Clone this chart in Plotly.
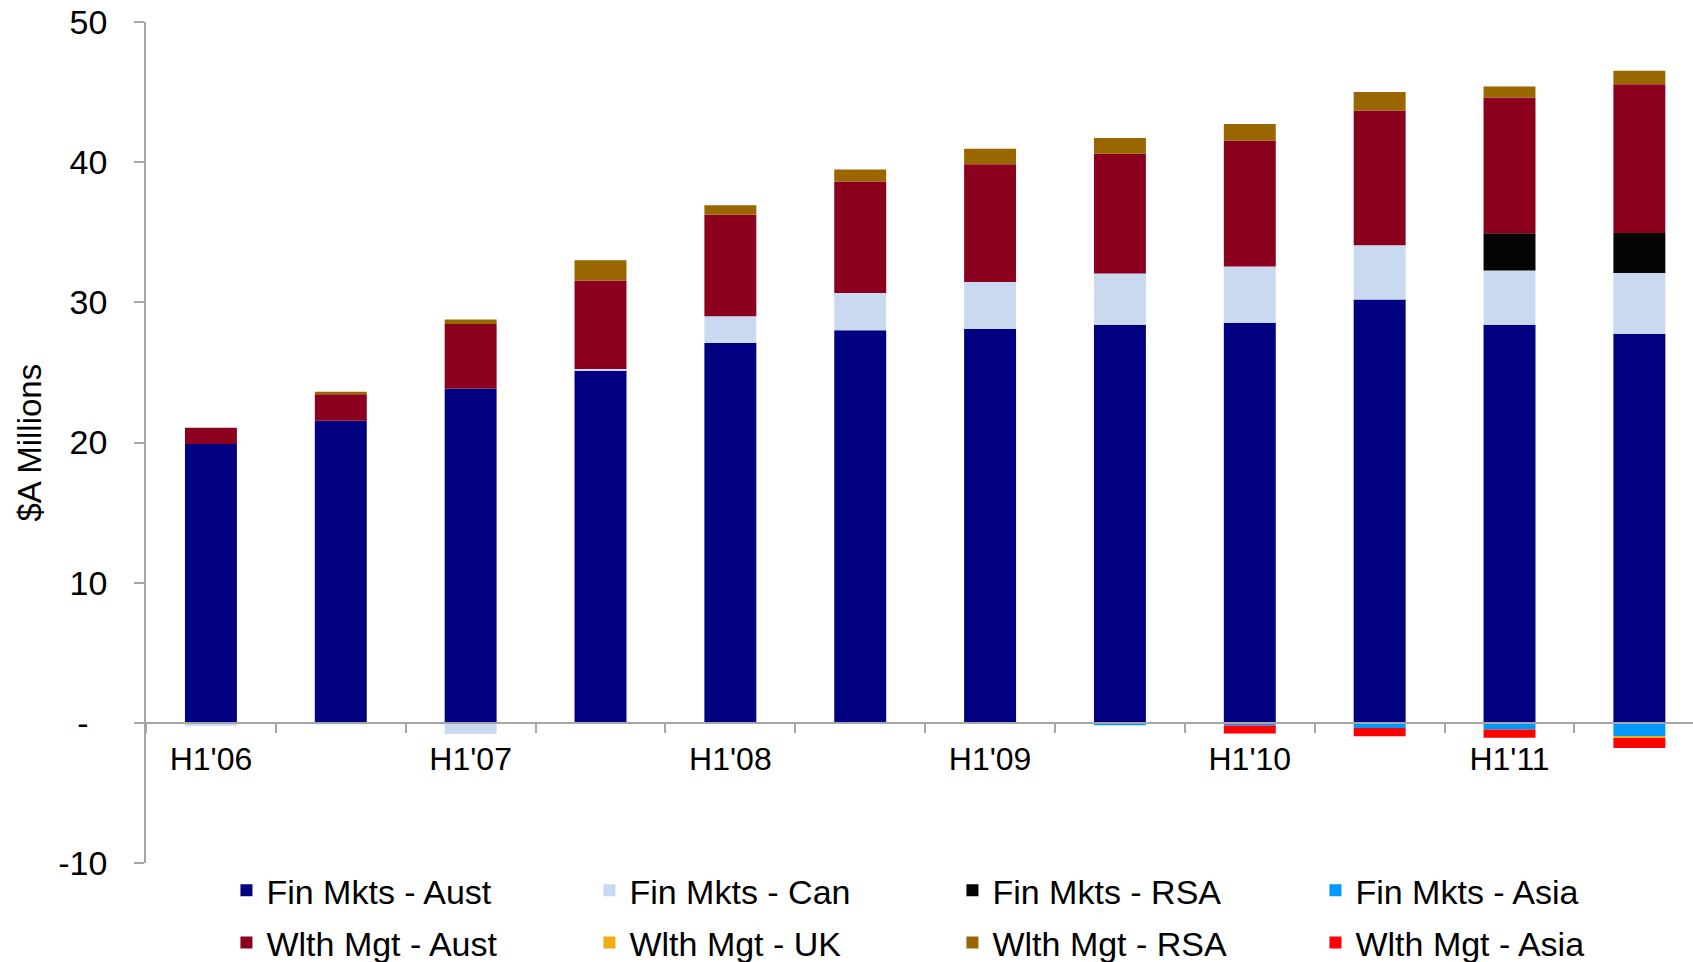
import plotly.graph_objects as go

# Half-year periods
periods = ["H1'06", "H2'06", "H1'07", "H2'07", "H1'08", "H2'08",
           "H1'09", "H2'09", "H1'10", "H2'10", "H1'11", "H2'11"]
period_labels = ["H1'06", "", "H1'07", "", "H1'08", "",
                 "H1'09", "", "H1'10", "", "H1'11", ""]

# Contribution by business line, $A millions
fin_mkts_aust = [19.9, 21.55, 23.85, 25.15, 27.1, 28.0, 28.1, 28.4, 28.55, 30.2, 28.4, 27.75]
fin_mkts_can = [-0.2, -0.1, -0.8, 0.1, 1.9, 2.67, 3.35, 3.65, 4.0, 3.88, 3.87, 4.35]
fin_mkts_rsa = [0, 0, 0, 0, 0, 0, 0, 0, 0, 0, 2.65, 2.85]
fin_mkts_asia = [0, 0, 0, 0, 0, 0, 0, -0.17, -0.19, -0.36, -0.48, -0.95]
wlth_mgt_aust = [1.15, 1.9, 4.6, 6.3, 7.25, 7.95, 8.4, 8.55, 9.0, 9.6, 9.7, 10.6]
wlth_mgt_uk = [0, 0, 0, 0, 0, 0, 0, 0, 0, 0, 0, -0.13]
wlth_mgt_rsa = [0, 0.17, 0.33, 1.45, 0.67, 0.86, 1.1, 1.13, 1.18, 1.33, 0.78, 0.97]
wlth_mgt_asia = [0, 0, 0, 0, 0, 0, 0, 0, -0.57, -0.59, -0.59, -0.71]

y_ticks = [-10, 0, 10, 20, 30, 40, 50]
y_tick_text = ["-10", "-\u00a0\u00a0", "10", "20", "30", "40", "50"]

series = [
    ("Fin Mkts - Aust", fin_mkts_aust, "#000080", "legend"),
    ("Fin Mkts - Can", fin_mkts_can, "#C9DAF0", "legend"),
    ("Fin Mkts - RSA", fin_mkts_rsa, "#050505", "legend"),
    ("Fin Mkts - Asia", fin_mkts_asia, "#0099FF", "legend"),
    ("Wlth Mgt - Aust", wlth_mgt_aust, "#8B001C", "legend2"),
    ("Wlth Mgt - UK", wlth_mgt_uk, "#F2AE12", "legend2"),
    ("Wlth Mgt - RSA", wlth_mgt_rsa, "#996600", "legend2"),
    ("Wlth Mgt - Asia", wlth_mgt_asia, "#FF0000", "legend2"),
]

FONT = "Arial, 'Liberation Sans', sans-serif"
AXIS_GREY = "#A6A6A6"

fig = go.Figure()
for name, vals, color, leg in series:
    fig.add_trace(go.Bar(
        x=periods, y=vals, name=name, width=0.4,
        marker=dict(color=color, line=dict(width=0)),
        legend=leg,
    ))

W, H = 1693, 962
ML, MR, MT, MB = 146, 0, 22, 99

legend_common = dict(
    orientation="h", xanchor="left", yanchor="middle",
    font=dict(family=FONT, size=34, color="#000000"),
    entrywidth=318, entrywidthmode="pixels",
    bgcolor="rgba(0,0,0,0)", borderwidth=0, traceorder="normal",
)

fig.update_layout(
    width=W, height=H,
    margin=dict(l=ML, r=MR, t=MT, b=MB, autoexpand=False),
    barmode="relative",
    plot_bgcolor="#FFFFFF", paper_bgcolor="#FFFFFF",
    font=dict(family=FONT, size=32, color="#000000"),
    showlegend=True,
    legend=dict(x=0.052, y=-0.033, **legend_common),
    legend2=dict(x=0.052, y=-0.095, **legend_common),
    xaxis=dict(
        type="category",
        range=[-0.5, 11.413],
        tickmode="array", tickvals=periods, ticktext=period_labels,
        tickson="boundaries", ticks="outside", ticklen=9, tickwidth=1.5,
        tickcolor=AXIS_GREY,
        showline=True, linecolor=AXIS_GREY, linewidth=1.5,
        showgrid=False, zeroline=False,
        anchor="free", position=1 / 6,
        tickfont=dict(family=FONT, size=32, color="#000000"),
        ticklabelstandoff=8,
    ),
    yaxis=dict(
        range=[-10, 50],
        tickmode="array", tickvals=y_ticks, ticktext=y_tick_text,
        ticks="outside", ticklen=10, tickwidth=1.5, tickcolor=AXIS_GREY,
        showline=True, linecolor=AXIS_GREY, linewidth=1.5,
        showgrid=False, zeroline=False,
        tickfont=dict(family=FONT, size=34, color="#000000"),
        ticklabelstandoff=20,
    ),
    annotations=[dict(
        text="$A Millions", textangle=-90,
        xref="paper", yref="paper", x=-0.0756, y=0.5,
        xanchor="center", yanchor="middle", showarrow=False,
        font=dict(family=FONT, size=33, color="#000000"),
    )],
)

fig.write_html("out.html")
